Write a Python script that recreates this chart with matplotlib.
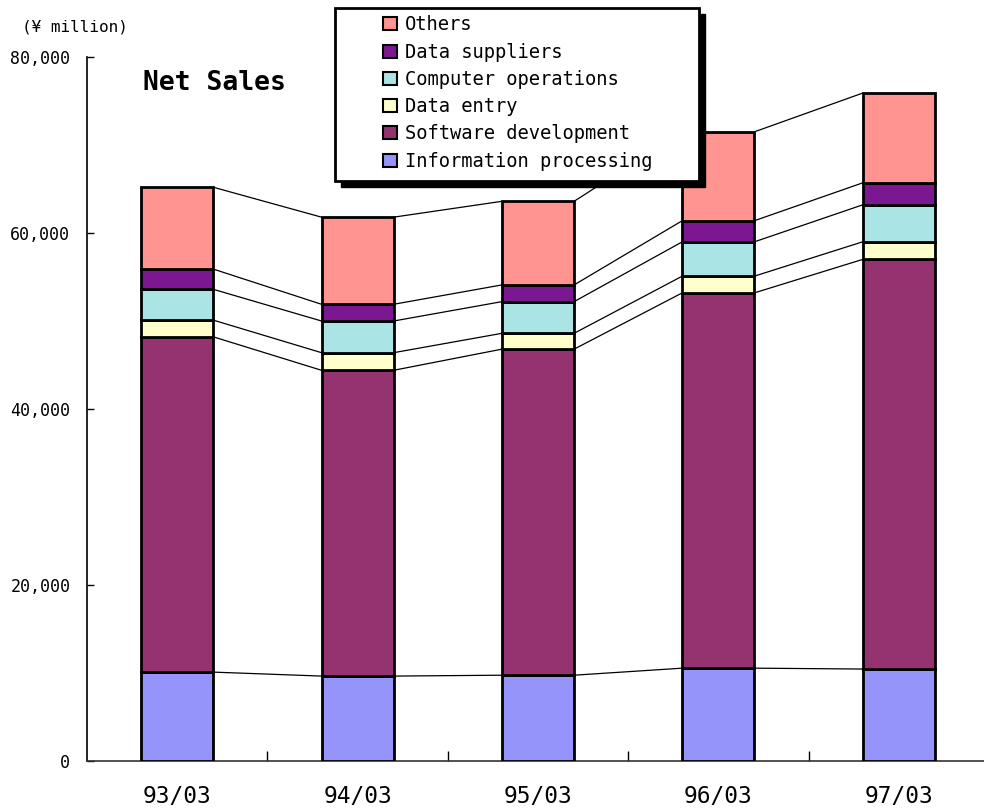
import numpy as np
import matplotlib
matplotlib.use("Agg")
import matplotlib.pyplot as plt
from matplotlib.patches import Rectangle
from matplotlib.ticker import FuncFormatter

plt.rcParams['font.family'] = ['DejaVu Sans Mono', 'DejaVu Sans']

# Net sales by segment (yen million)
years = ["93/03", "94/03", "95/03", "96/03", "97/03"]
info_processing = [10100, 9650, 9750, 10550, 10450]
software_dev = [38100, 34750, 37050, 42650, 46550]
data_entry = [1900, 2000, 1800, 1900, 2000]
computer_ops = [3500, 3600, 3600, 3900, 4200]
data_suppliers = [2300, 1900, 1900, 2400, 2500]
others = [9300, 9900, 9500, 10100, 10200]

series = [
    ("Information processing", info_processing, "#9494FA"),
    ("Software development", software_dev, "#953370"),
    ("Data entry", data_entry, "#FFFFCC"),
    ("Computer operations", computer_ops, "#ABE4E4"),
    ("Data suppliers", data_suppliers, "#7B1790"),
    ("Others", others, "#FF9490"),
]

W, H = 984, 809
fig = plt.figure(figsize=(W / 100, H / 100), dpi=100)
ax = fig.add_axes([87 / W, 48 / H, 902 / W, 704 / H])

x = np.arange(len(years))
width = 0.4
bottom = np.zeros(len(years))
handles = []
for name, vals, col in series:
    vals = np.array(vals, dtype=float)
    b = ax.bar(x, vals, width, bottom=bottom, color=col, edgecolor='black',
               linewidth=2, label=name, zorder=3)
    handles.append(b)
    top = bottom + vals
    # series lines between bars
    for i in range(len(years) - 1):
        ax.plot([x[i] + width / 2, x[i + 1] - width / 2], [top[i], top[i + 1]],
                color='black', lw=0.9, zorder=2)
    bottom = top

ax.set_xlim(-0.5, 4.5)
ax.set_ylim(0, 80000)
ax.set_yticks(np.arange(0, 80001, 20000))
ax.yaxis.set_major_formatter(FuncFormatter(lambda v, p: f"{v:,.0f}"))
ax.tick_params(axis='y', direction='in', length=5, width=1, labelsize=12, pad=12)
ax.set_xticks(x)
ax.set_xticklabels(years)
ax.tick_params(axis='x', which='major', length=0, labelsize=16.5, pad=17)
ax.set_xticks(np.arange(0.5, 4.5, 1), minor=True)
ax.tick_params(axis='x', which='minor', direction='in', length=7, width=1)

for s in ['top', 'right']:
    ax.spines[s].set_visible(False)
ax.spines['left'].set_linewidth(1.2)
ax.spines['bottom'].set_linewidth(1.2)
ax.spines['bottom'].set_color('#333333')

fig.text(22 / W, 1 - 27 / H, "(¥ million)", fontsize=11.5, va='center', ha='left')
fig.text(143 / W, 1 - 83 / H, "Net Sales", fontsize=19, fontweight='bold',
         va='center', ha='left')

# legend box with solid shadow
bx0, by0, bx1, by1 = 335, 8, 699, 181
fig.patches.append(Rectangle(((bx0 + 6) / W, 1 - (by1 + 6) / H), (bx1 - bx0) / W,
                             (by1 - by0) / H, transform=fig.transFigure,
                             facecolor='black', edgecolor='black', zorder=1))
fig.patches.append(Rectangle((bx0 / W, 1 - by1 / H), (bx1 - bx0) / W,
                             (by1 - by0) / H, transform=fig.transFigure,
                             facecolor='white', edgecolor='black', lw=2, zorder=2))

leg = fig.legend(handles[::-1], [s[0] for s in series][::-1], loc='upper left',
                 bbox_to_anchor=(374 / W, 1 - 6 / H), frameon=False,
                 fontsize=13.5, handlelength=0.7, handleheight=0.7,
                 handletextpad=0.45, labelspacing=0.44, borderpad=0)
leg.set_zorder(5)
for h in leg.legend_handles:
    h.set_linewidth(1.5)

fig.savefig("out.png", dpi=100)
